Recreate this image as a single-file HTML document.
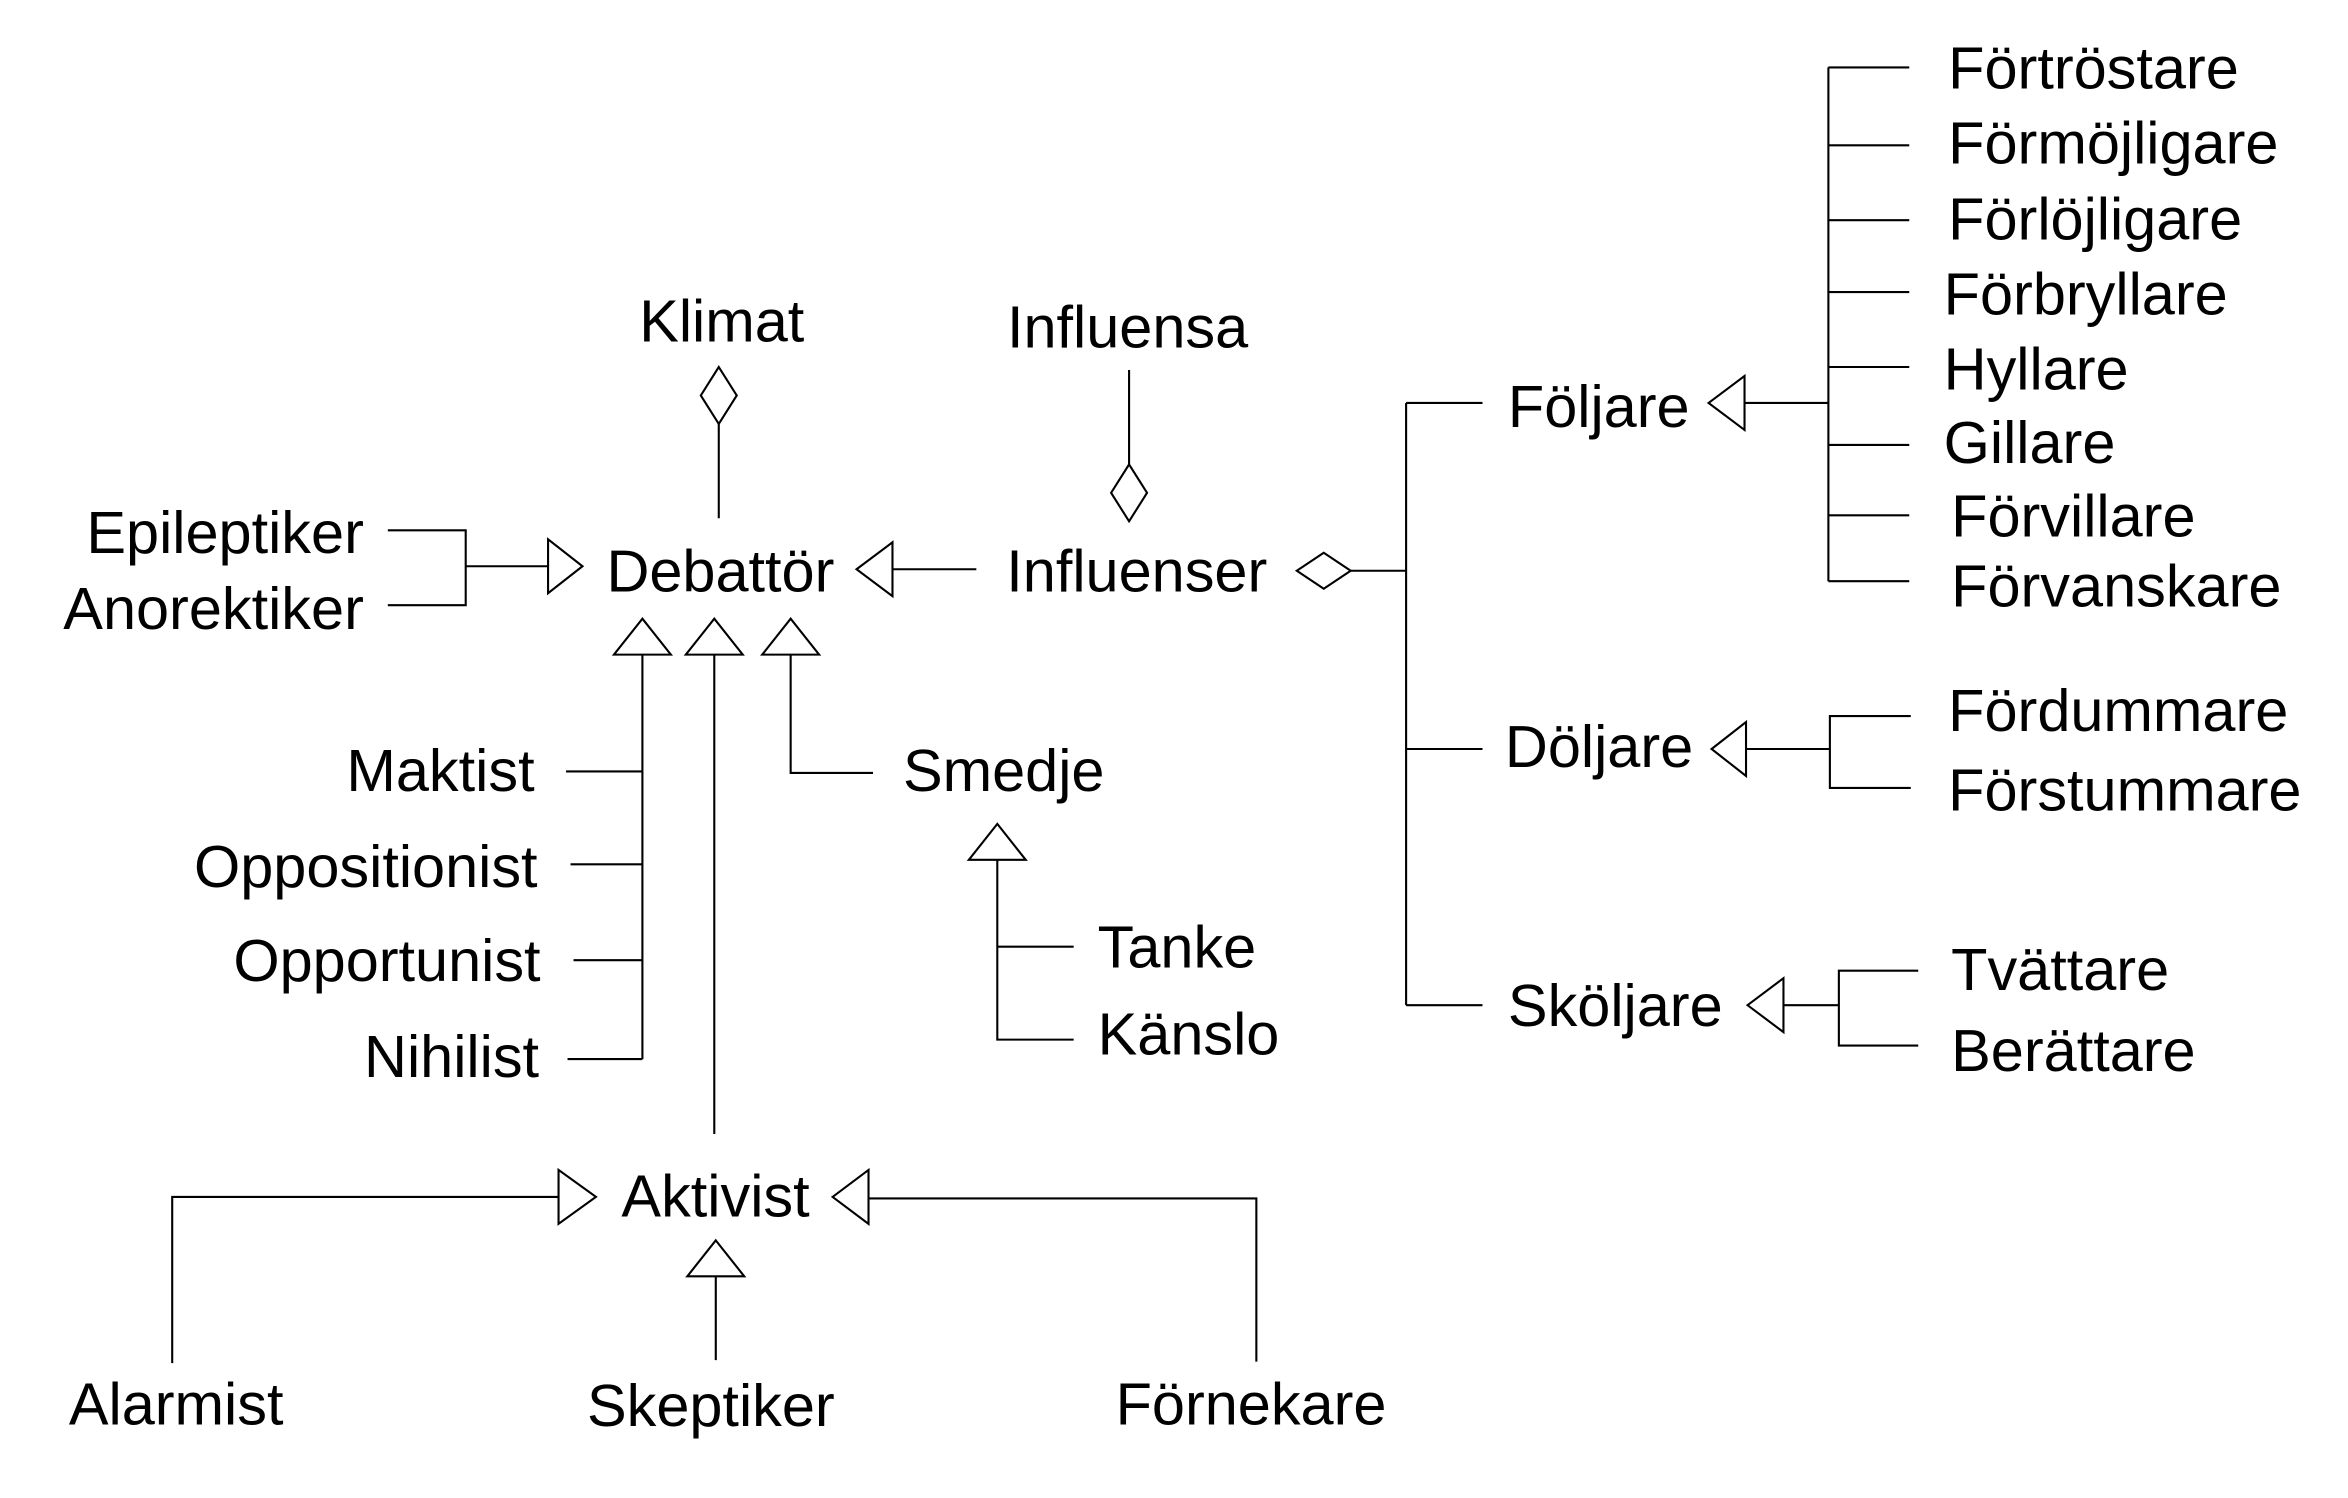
<!DOCTYPE html>
<html><head><meta charset="utf-8"><style>
html,body{margin:0;padding:0;background:#fff;}
svg{display:block}
text{font-family:"Liberation Sans",Arial,sans-serif;font-size:39.7px;fill:#000}
</style></head><body>
<svg width="2348" height="1498" viewBox="0 0 1568 1000" preserveAspectRatio="none" xmlns="http://www.w3.org/2000/svg">
<g fill="none" stroke="#000" stroke-width="1.4">
<polygon points="480,245 492,264 480,283 468,264" fill="#fff"/>
<line x1="480" y1="283" x2="480" y2="346"/>
<line x1="754" y1="247" x2="754" y2="310"/>
<polygon points="754,310 766,329 754,348 742,329" fill="#fff"/>
<polyline points="259,354 311,354 311,404 259,404"/>
<line x1="311" y1="378" x2="366" y2="378"/>
<polygon points="366,360 366,396 389,378" fill="#fff"/>
<polygon points="572,380 596,362 596,398" fill="#fff"/>
<line x1="596" y1="380" x2="652" y2="380"/>
<polygon points="866,381 884,369 902,381 884,393" fill="#fff"/>
<line x1="902" y1="381" x2="939" y2="381"/>
<line x1="939" y1="269" x2="939" y2="671"/>
<line x1="939" y1="269" x2="990" y2="269"/>
<line x1="939" y1="500" x2="990" y2="500"/>
<line x1="939" y1="671" x2="990" y2="671"/>
<polygon points="1141,269 1165,251 1165,287" fill="#fff"/>
<line x1="1165" y1="269" x2="1221" y2="269"/>
<line x1="1221" y1="45" x2="1221" y2="388"/>
<line x1="1221" y1="45" x2="1275" y2="45"/>
<line x1="1221" y1="97" x2="1275" y2="97"/>
<line x1="1221" y1="147" x2="1275" y2="147"/>
<line x1="1221" y1="195" x2="1275" y2="195"/>
<line x1="1221" y1="245" x2="1275" y2="245"/>
<line x1="1221" y1="297" x2="1275" y2="297"/>
<line x1="1221" y1="344" x2="1275" y2="344"/>
<line x1="1221" y1="388" x2="1275" y2="388"/>
<polygon points="1143,500 1166,482 1166,518" fill="#fff"/>
<line x1="1166" y1="500" x2="1222" y2="500"/>
<polyline points="1276,478 1222,478 1222,526 1276,526"/>
<polygon points="1167,671 1191,653 1191,689" fill="#fff"/>
<line x1="1191" y1="671" x2="1228" y2="671"/>
<polyline points="1281,648 1228,648 1228,698 1281,698"/>
<polygon points="429,413 448,437 410,437" fill="#fff"/>
<polygon points="477,413 496,437 458,437" fill="#fff"/>
<polygon points="528,413 547,437 509,437" fill="#fff"/>
<line x1="429" y1="437" x2="429" y2="707"/>
<line x1="378" y1="515" x2="429" y2="515"/>
<line x1="381" y1="577" x2="429" y2="577"/>
<line x1="383" y1="641" x2="429" y2="641"/>
<line x1="379" y1="707" x2="429" y2="707"/>
<line x1="477" y1="437" x2="477" y2="757"/>
<polyline points="528,437 528,516 583,516"/>
<polygon points="666,550 685,574 647,574" fill="#fff"/>
<polyline points="666,574 666,694 717,694"/>
<line x1="666" y1="632" x2="717" y2="632"/>
<polyline points="115,910 115,799 373,799"/>
<polygon points="373,781 373,817 398,799" fill="#fff"/>
<polygon points="556,799 580,781 580,817" fill="#fff"/>
<polyline points="580,800 839,800 839,909"/>
<polygon points="478,828 497,852 459,852" fill="#fff"/>
<line x1="478" y1="852" x2="478" y2="908"/>
</g>
<text x="482" y="228" text-anchor="middle">Klimat</text>
<text x="753" y="232" text-anchor="middle">Influensa</text>
<text x="243" y="369" text-anchor="end">Epileptiker</text>
<text x="243" y="420" text-anchor="end">Anorektiker</text>
<text x="405" y="395">Debattör</text>
<text x="672" y="395">Influenser</text>
<text x="1007" y="285">Följare</text>
<text x="1005" y="512">Döljare</text>
<text x="1007" y="685">Sköljare</text>
<text x="1301" y="59">Förtröstare</text>
<text x="1301" y="109">Förmöjligare</text>
<text x="1301" y="160">Förlöjligare</text>
<text x="1298" y="210">Förbryllare</text>
<text x="1298" y="260">Hyllare</text>
<text x="1298" y="309">Gillare</text>
<text x="1303" y="358">Förvillare</text>
<text x="1303" y="405">Förvanskare</text>
<text x="1301" y="488">Fördummare</text>
<text x="1301" y="541">Förstummare</text>
<text x="1303" y="661">Tvättare</text>
<text x="1303" y="715">Berättare</text>
<text x="357" y="528" text-anchor="end">Maktist</text>
<text x="359" y="592" text-anchor="end">Oppositionist</text>
<text x="361" y="655" text-anchor="end">Opportunist</text>
<text x="360" y="719" text-anchor="end">Nihilist</text>
<text x="603" y="528">Smedje</text>
<text x="733" y="646">Tanke</text>
<text x="733" y="704">Känslo</text>
<text x="415" y="812">Aktivist</text>
<text x="46" y="951">Alarmist</text>
<text x="392" y="952">Skeptiker</text>
<text x="745" y="951">Förnekare</text>
</svg>
</body></html>
